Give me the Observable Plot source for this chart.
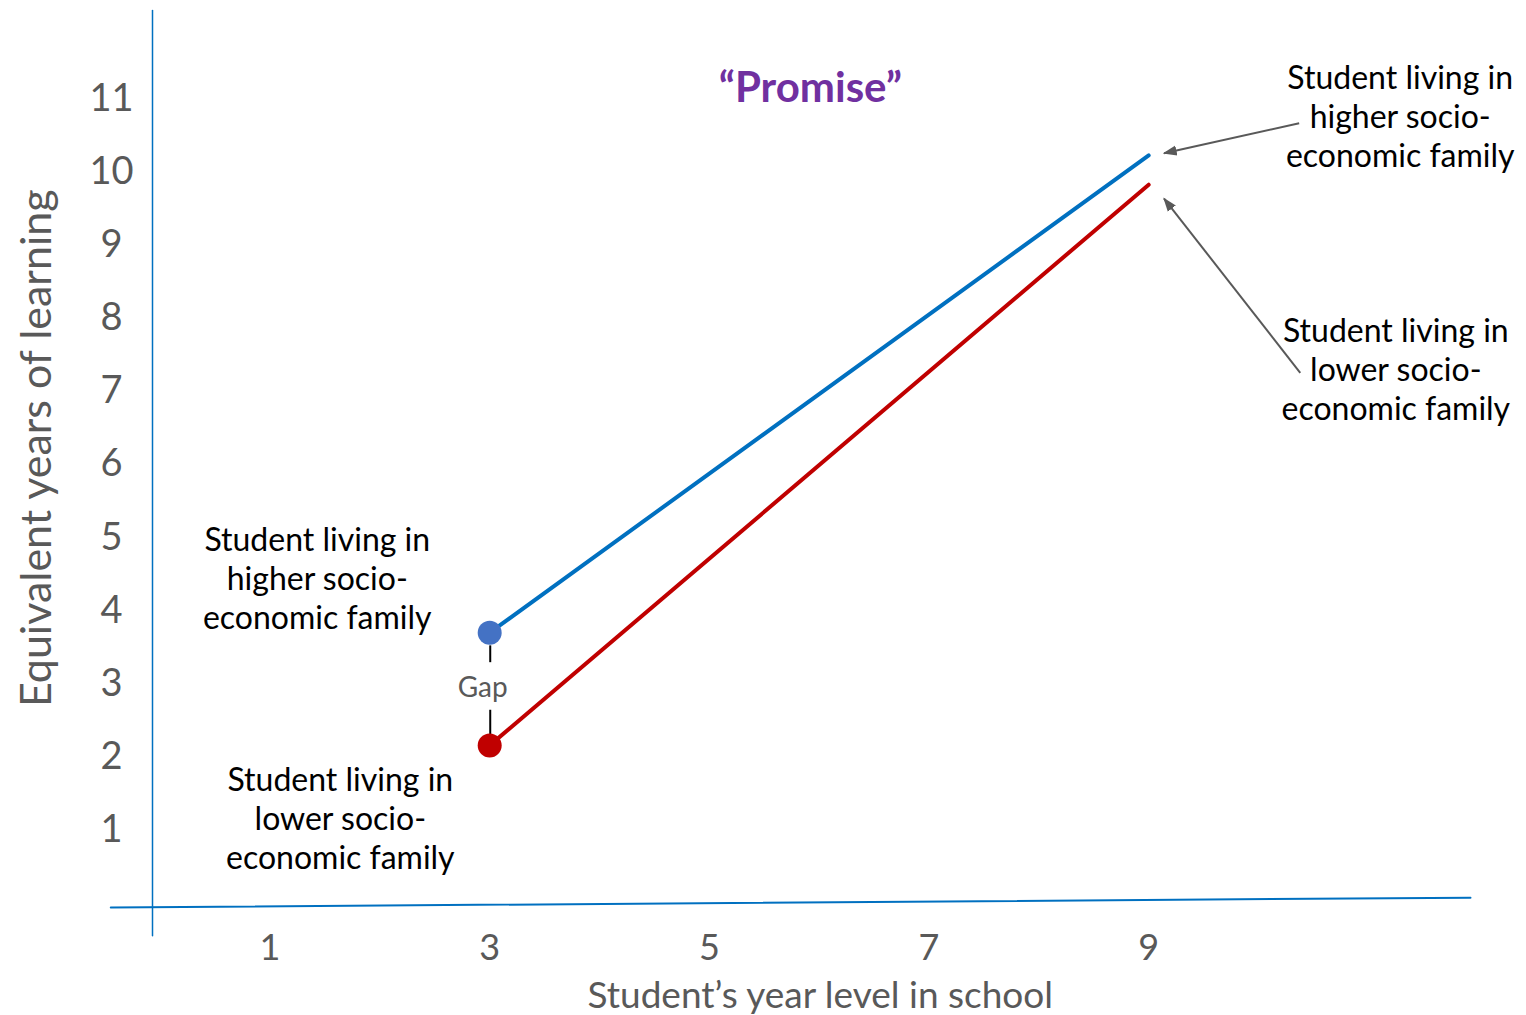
<!DOCTYPE html>
<html>
<head>
<meta charset="utf-8">
<script src="https://cdn.jsdelivr.net/npm/d3@7"></script>
<script src="https://cdn.jsdelivr.net/npm/@observablehq/plot@0.6"></script>
<style>
  html, body { margin: 0; padding: 0; background: #fff; }
  #chart { width: 1526px; height: 1015px; }
</style>
</head>
<body>
<div id="chart"></div>
<script>
// ---- data ----
const years = [3, 9];
const higherSES = [3.70, 10.22];
const lowerSES = [2.16, 9.82];

const xTicks = [1, 3, 5, 7, 9];
const yTicks = [1, 2, 3, 4, 5, 6, 7, 8, 9, 10, 11];

const xTitle = "Student’s year level in school";
const yTitle = "Equivalent years of learning";
const promiseLabel = "“Promise”";
const gapLabel = "Gap";
const higherLabel = "Student living in\nhigher socio-\neconomic family";
const lowerLabel = "Student living in\nlower socio-\neconomic family";

// annotation anchors (data units)
const labelX = [1.43, 1.64, 11.29, 11.25];
const labelY = [4.45, 1.17, 10.76, 7.31];
const labelText = [higherLabel, lowerLabel, higherLabel, lowerLabel];

const arrowX1 = [10.37, 10.38];
const arrowY1 = [10.66, 7.25];
const arrowX2 = [9.14, 9.14];
const arrowY2 = [10.25, 9.63];

const gapX = [3.005, 3.005];
const gapY1 = [3.52, 2.64];
const gapY2 = [3.29, 2.30];

// axis lines (data units)
const xAxisLineX = [-0.45, 11.93];
const xAxisLineY = [-0.055, 0.08];
const yAxisLineX = [-0.07, -0.07];
const yAxisLineY = [-0.44, 12.2];

// ---- build tables ----
const higher = years.map((x, i) => ({x, y: higherSES[i]}));
const lower = years.map((x, i) => ({x, y: lowerSES[i]}));
const labels = labelText.map((t, i) => ({x: labelX[i], y: labelY[i], t}));
const arrows = arrowX1.map((x1, i) => ({x1, y1: arrowY1[i], x2: arrowX2[i], y2: arrowY2[i]}));
const gaps = gapX.map((x, i) => ({x, y1: gapY1[i], y2: gapY2[i]}));
const xAxisLine = xAxisLineX.map((x, i) => ({x, y: xAxisLineY[i]}));
const yAxisLine = yAxisLineX.map((x, i) => ({x, y: yAxisLineY[i]}));

const FONT = "Lato, 'Noto Sans', sans-serif";
const GREY = "#595959";

function filledArrow(color, context) {
  const ns = "http://www.w3.org/2000/svg";
  const m = context.document.createElementNS(ns, "marker");
  m.setAttribute("viewBox", "-5 -5 10 10");
  m.setAttribute("markerWidth", 7);
  m.setAttribute("markerHeight", 7);
  m.setAttribute("orient", "auto");
  m.setAttribute("refX", 4);
  m.setAttribute("refY", 0);
  m.setAttribute("fill", color);
  m.setAttribute("stroke", "none");
  const p = context.document.createElementNS(ns, "path");
  p.setAttribute("d", "M-5,-3.6L5,0L-5,3.6Z");
  m.appendChild(p);
  return m;
}

const chart = Plot.plot({
  width: 1526,
  height: 1015,
  marginLeft: 152,
  marginRight: 56,
  marginTop: 10,
  marginBottom: 112,
  style: {fontFamily: FONT, background: "#fff", overflow: "visible"},
  x: {domain: [-0.07, 11.93]},
  y: {domain: [0, 12.2]},
  marks: [
    Plot.line(xAxisLine, {x: "x", y: "y", stroke: "#0070C0", strokeWidth: 2}),
    Plot.line(yAxisLine, {x: "x", y: "y", stroke: "#0070C0", strokeWidth: 1.5}),
    Plot.axisY({ticks: yTicks, tickSize: 0, tickPadding: 41, textAnchor: "middle",
      fontSize: 38, color: GREY, label: null, tickFormat: d => String(d)}),
    Plot.axisX({ticks: xTicks, tickSize: 0, tickPadding: 31,
      fontSize: 36, color: GREY, label: null, tickFormat: d => String(d)}),
    Plot.text([xTitle], {x: 6.01, y: -1.27, text: d => d, fontSize: 37, fill: GREY}),
    Plot.text([yTitle], {x: -1.115, y: 6.22, text: d => d, fontSize: 43, fill: GREY, rotate: -90}),
    Plot.line(higher, {x: "x", y: "y", stroke: "#0070C0", strokeWidth: 4}),
    Plot.line(lower, {x: "x", y: "y", stroke: "#C00000", strokeWidth: 4}),
    Plot.ruleX(gaps, {x: "x", y1: "y1", y2: "y2", stroke: "#000", strokeWidth: 2}),
    Plot.text([gapLabel], {x: 2.936, y: 2.95, text: d => d, fontSize: 28, fill: GREY}),
    Plot.dot(higher.slice(0, 1), {x: "x", y: "y", r: 12, fill: "#4472C4"}),
    Plot.dot(lower.slice(0, 1), {x: "x", y: "y", r: 12, fill: "#C00000"}),
    Plot.text(labels, {x: "x", y: "y", text: "t", fontSize: 32, fill: "#000", lineHeight: 1.22}),
    Plot.link(arrows, {x1: "x1", y1: "y1", x2: "x2", y2: "y2", stroke: GREY, strokeWidth: 2, markerEnd: filledArrow}),
    Plot.text([promiseLabel], {x: 5.92, y: 11.13, text: d => d, fontSize: 42, fontWeight: "bold", fill: "#7030A0"})
  ]
});
document.getElementById("chart").appendChild(chart);
</script>
</body>
</html>
